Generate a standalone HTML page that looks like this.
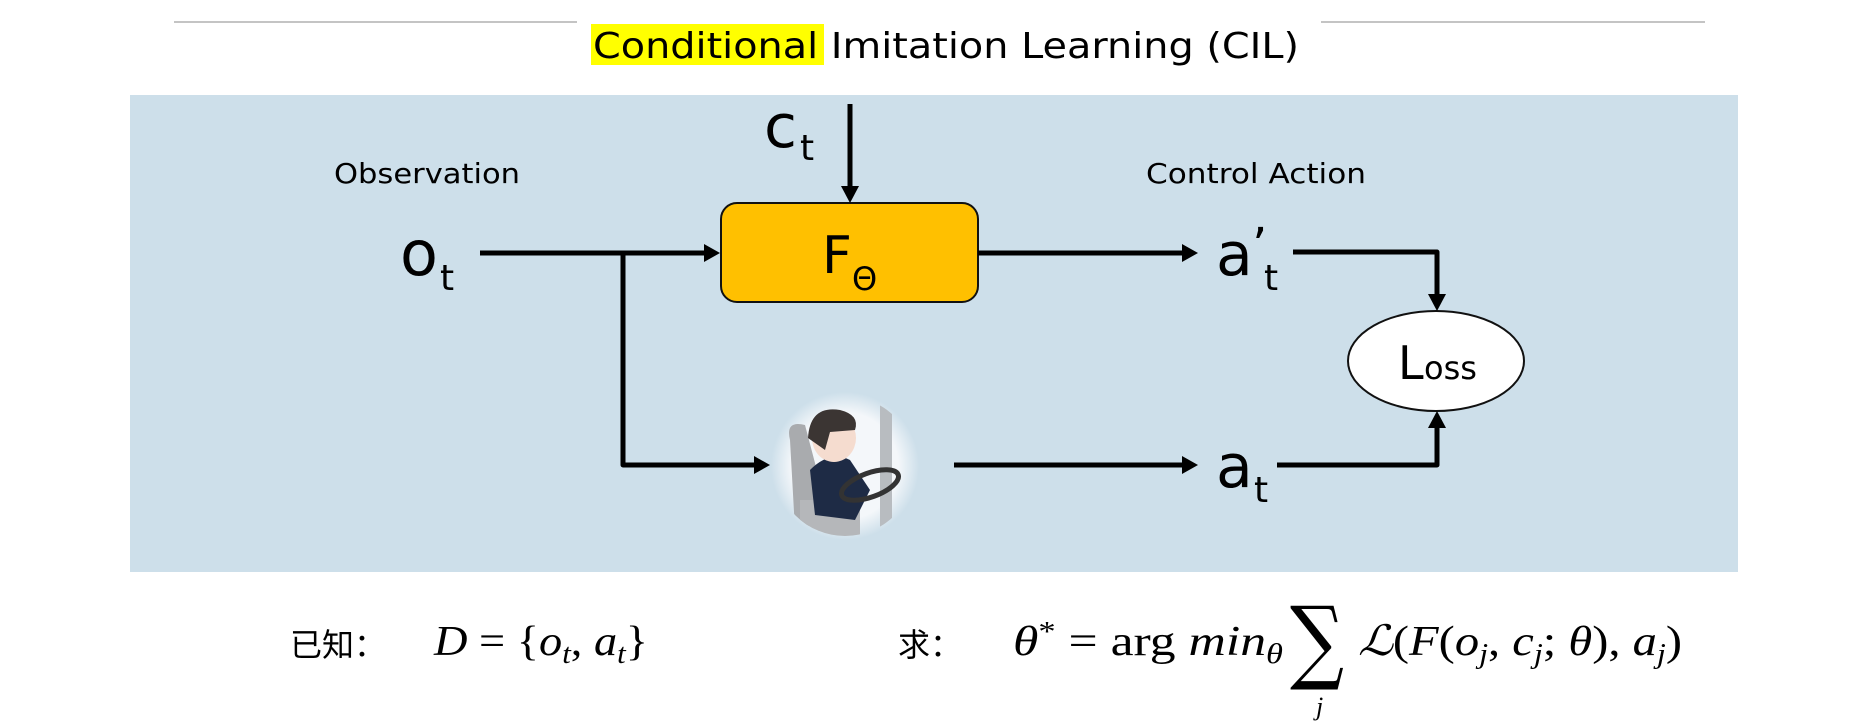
<!DOCTYPE html>
<html><head><meta charset="utf-8"><style>
html,body{margin:0;padding:0;background:#fff;}
svg{display:block;}
</style></head><body>
<svg width="1856" height="722" viewBox="0 0 1856 722" xmlns="http://www.w3.org/2000/svg">
<defs>
<radialGradient id="rg" cx="0.5" cy="0.5" r="0.5">
<stop offset="0.72" stop-color="#f4f7fa"/>
<stop offset="1" stop-color="#cddfea"/>
</radialGradient>
<clipPath id="cc"><circle cx="845" cy="466" r="70"/></clipPath>
</defs>
<line x1="174" y1="22" x2="577" y2="22" stroke="#b0b0b0" stroke-width="1.5"/>
<line x1="1321" y1="22" x2="1705" y2="22" stroke="#b0b0b0" stroke-width="1.5"/>
<rect x="591" y="24" width="233" height="41" fill="#ffff00"/>
<text x="593" y="58" font-family="DejaVu Sans, sans-serif" font-size="36" textLength="706" lengthAdjust="spacingAndGlyphs">Conditional Imitation Learning (CIL)</text>
<rect x="130" y="95" width="1608" height="477" fill="#cddfea"/>
<g font-family="DejaVu Sans, sans-serif" fill="#000">
<text x="334" y="183" font-size="28" textLength="186" lengthAdjust="spacingAndGlyphs">Observation</text>
<text x="1146" y="183" font-size="28" textLength="220" lengthAdjust="spacingAndGlyphs">Control Action</text>
<text x="400" y="275" font-size="62">o</text><text x="440" y="290" font-size="36">t</text>
<text x="764" y="147" font-size="60">c</text><text x="800" y="160" font-size="36">t</text>
<text x="1216" y="275" font-size="60">a</text><text x="1252" y="262" font-size="48">’</text><text x="1264" y="290" font-size="36">t</text>
<text x="1216" y="487" font-size="60">a</text><text x="1254" y="502" font-size="36">t</text>
</g>
<rect x="721" y="203" width="257" height="99" rx="16" fill="#ffc000" stroke="#111" stroke-width="2"/>
<text x="822" y="273" font-family="DejaVu Sans, sans-serif" font-size="52">F</text>
<text x="852" y="290" font-family="DejaVu Sans, sans-serif" font-size="32">Θ</text>
<ellipse cx="1436" cy="361" rx="88" ry="50" fill="#fff" stroke="#111" stroke-width="2"/>
<text x="1398" y="379" font-family="DejaVu Sans, sans-serif" font-size="46">L</text>
<text x="1424" y="379" font-family="DejaVu Sans, sans-serif" font-size="32">oss</text>
<g stroke="#000" stroke-width="5" fill="none" stroke-linejoin="round">
<polyline points="480,253 706,253"/>
<polyline points="623,253 623,465 756,465"/>
<polyline points="850,104 850,190"/>
<polyline points="978,253 1184,253"/>
<polyline points="1293,252 1437,252 1437,298"/>
<polyline points="954,465 1184,465"/>
<polyline points="1277,465 1437,465 1437,425"/>
</g>
<g fill="#000">
<polygon points="720,253 704,244 704,262"/>
<polygon points="770,465 754,456 754,474"/>
<polygon points="850,203 841,186 859,186"/>
<polygon points="1198,253 1182,244 1182,262"/>
<polygon points="1198,465 1182,456 1182,474"/>
<polygon points="1437,311 1428,294 1446,294"/>
<polygon points="1437,411 1428,428 1446,428"/>
</g>
<circle cx="845" cy="466" r="74" fill="url(#rg)"/>
<g clip-path="url(#cc)">
<rect x="880" y="400" width="12" height="140" fill="#b8bcc0"/>
<path d="M790 440 Q785 420 805 425 L830 520 L795 530 Z" fill="#a9abae"/>
<rect x="800" y="500" width="60" height="40" fill="#b5b7ba"/>
<path d="M810 470 Q830 450 850 460 L870 490 L855 520 L815 515 Z" fill="#1e2b45"/>
<ellipse cx="834" cy="438" rx="22" ry="24" fill="#f5dccf"/>
<path d="M808 438 Q810 405 840 410 Q860 415 855 430 L830 432 L825 450 Z" fill="#3b3533"/>
<ellipse cx="870" cy="485" rx="30" ry="12" fill="none" stroke="#333" stroke-width="5" transform="rotate(-20 870 485)"/>
</g>
<text x="290" y="656" font-family="Noto Sans CJK SC, sans-serif" font-size="32">已知：</text>
<text x="434" y="655" font-family="Liberation Serif, serif" font-size="42" textLength="214" lengthAdjust="spacingAndGlyphs"><tspan font-style="italic">D</tspan> = {<tspan font-style="italic">o</tspan><tspan font-style="italic" font-size="28" dy="8">t</tspan><tspan dy="-8">, </tspan><tspan font-style="italic">a</tspan><tspan font-style="italic" font-size="28" dy="8">t</tspan><tspan dy="-8">}</tspan></text>
<text x="898" y="656" font-family="Noto Sans CJK SC, sans-serif" font-size="32">求：</text>
<text x="1013" y="655" font-family="Liberation Serif, serif" font-size="42" textLength="270" lengthAdjust="spacingAndGlyphs"><tspan font-style="italic">θ</tspan><tspan font-size="28" dy="-14">*</tspan><tspan dy="14"> = arg </tspan><tspan font-style="italic">min</tspan><tspan font-style="italic" font-size="28" dy="8">θ</tspan></text>
<text x="1290" y="672" font-family="DejaVu Serif, serif" font-size="92" textLength="54" lengthAdjust="spacingAndGlyphs">∑</text>
<text x="1316" y="715" font-family="Liberation Serif, serif" font-style="italic" font-size="26">j</text>
<text x="1358" y="655" font-family="Liberation Serif, serif" font-size="42" textLength="324" lengthAdjust="spacingAndGlyphs"><tspan font-style="italic">ℒ</tspan>(<tspan font-style="italic">F</tspan>(<tspan font-style="italic">o</tspan><tspan font-style="italic" font-size="28" dy="8">j</tspan><tspan dy="-8">, </tspan><tspan font-style="italic">c</tspan><tspan font-style="italic" font-size="28" dy="8">j</tspan><tspan dy="-8">; </tspan><tspan font-style="italic">θ</tspan>), <tspan font-style="italic">a</tspan><tspan font-style="italic" font-size="28" dy="8">j</tspan><tspan dy="-8">)</tspan></text>
</svg>
</body></html>
